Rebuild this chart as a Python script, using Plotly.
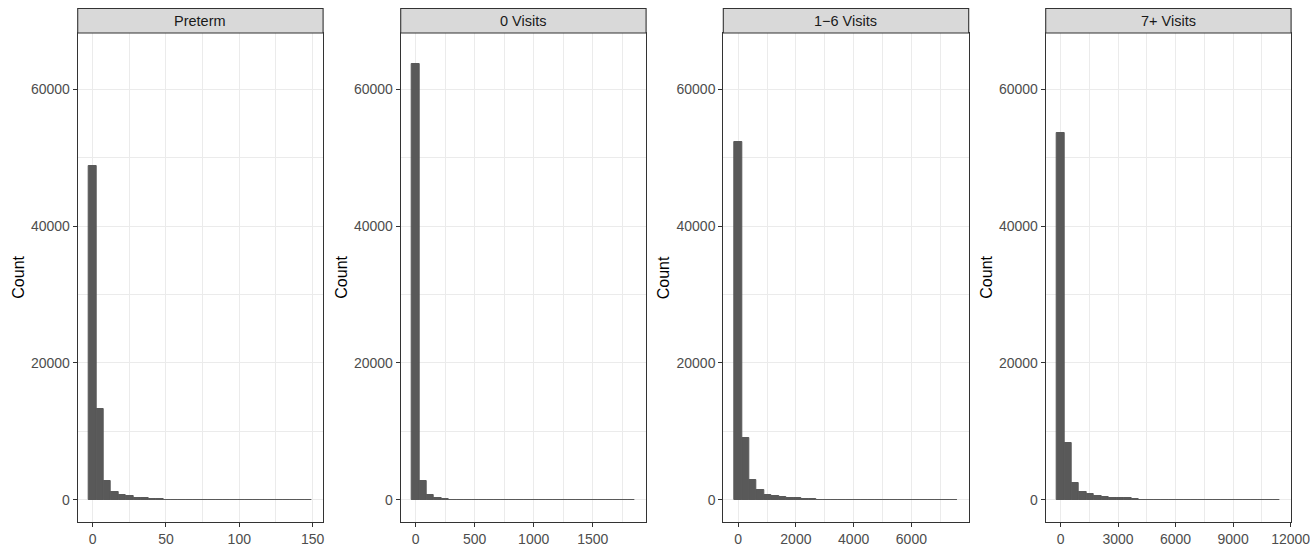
import plotly.graph_objects as go

# ---- data (30 bins per panel, ggplot-style: first bin centred on min) ----
panel_titles = ["Preterm", "0 Visits", "1\u22126 Visits", "7+ Visits"]
bin_min = [0, 0, 0, 0]
bin_max = [147, 1826, 7470, 11250]

counts_preterm = [48760, 13230, 2730, 1150, 700, 560, 260, 280, 120, 60,
                  40, 30, 20, 15, 12, 10, 8, 6, 5, 5, 4, 3, 3, 2, 2, 2, 1, 1, 1, 1]
counts_0 = [63750, 2730, 690, 250, 80, 40, 25, 15, 10, 8,
            6, 5, 4, 3, 3, 2, 2, 2, 1, 1, 1, 1, 1, 1, 1, 1, 1, 1, 1, 1]
counts_1_6 = [52260, 9000, 2870, 1410, 740, 540, 390, 300, 250, 100,
              60, 40, 30, 20, 15, 12, 10, 8, 6, 5, 4, 3, 3, 2, 2, 2, 1, 1, 1, 1]
counts_7 = [53620, 8270, 2440, 1120, 830, 540, 390, 250, 240, 200,
            60, 40, 30, 20, 15, 12, 10, 8, 6, 5, 4, 3, 3, 2, 2, 2, 1, 1, 1, 1]
all_counts = [counts_preterm, counts_0, counts_1_6, counts_7]

x_major = [[0, 50, 100, 150], [0, 500, 1000, 1500],
           [0, 2000, 4000, 6000], [0, 3000, 6000, 9000, 12000]]
x_minor_step = [25, 250, 1000, 1500]
y_ticks = [0, 20000, 40000, 60000]
y_limit = 65000

# ---- layout geometry (pixels) ----
W, H = 1310, 546
lefts = [77.7, 400.7, 723.3, 1045.7]
pw = 245.4
plot_top, plot_bot = 33.0, 522.0
strip_top = 8.5

FONT = "Liberation Sans, Arial, sans-serif"
BAR = "#595959"
GRID = "#EBEBEB"
BORDER = "#333333"
TICKTXT = "#4D4D4D"

fig = go.Figure()
shapes = []
annotations = []


def px_x(v):
    return v / W


def px_y(v):
    return 1 - v / H


for i in range(4):
    n = len(all_counts[i])
    w = (bin_max[i] - bin_min[i]) / (n - 1)
    centers = [bin_min[i] + k * w for k in range(n)]
    lo, hi = bin_min[i] - w / 2, bin_max[i] + w / 2
    span = hi - lo
    xr = [lo - 0.05 * span, hi + 0.05 * span]
    ax = "" if i == 0 else str(i + 1)
    fig.add_trace(go.Bar(
        x=centers, y=all_counts[i], width=w,
        marker=dict(color=BAR, line=dict(color=BAR, width=1)),
        xaxis="x" + ax, yaxis="y" + ax, showlegend=False,
        hovertemplate="%{x}: %{y}<extra></extra>",
    ))
    d0, d1 = px_x(lefts[i]), px_x(lefts[i] + pw)
    fig.layout["xaxis" + ax] = dict(
        domain=[d0, d1], range=xr, anchor="y" + ax,
        tickmode="array", tickvals=x_major[i], tickformat="d",
        showgrid=True, gridcolor=GRID, gridwidth=1.1,
        minor=dict(dtick=x_minor_step[i], tick0=0, showgrid=True,
                   gridcolor=GRID, gridwidth=0.55, ticks=""),
        zeroline=False, showline=True, mirror=True, linecolor=BORDER, linewidth=1.1,
        ticks="outside", ticklen=4, tickwidth=1.1, tickcolor=BORDER,
        tickfont=dict(family=FONT, size=14, color=TICKTXT),
        ticklabeloverflow="allow", automargin=False,
    )
    fig.layout["yaxis" + ax] = dict(
        domain=[px_y(plot_bot), px_y(plot_top)],
        range=[-0.05 * y_limit, 1.05 * y_limit], anchor="x" + ax,
        tickmode="array", tickvals=y_ticks, tickformat="d",
        showgrid=True, gridcolor=GRID, gridwidth=1.1,
        minor=dict(dtick=10000, tick0=0, showgrid=True,
                   gridcolor=GRID, gridwidth=0.55, ticks=""),
        zeroline=False, showline=True, mirror=True, linecolor=BORDER, linewidth=1.1,
        ticks="outside", ticklen=4, tickwidth=1.1, tickcolor=BORDER,
        tickfont=dict(family=FONT, size=14, color=TICKTXT),
        automargin=False,
    )
    # facet strip
    shapes.append(dict(type="rect", xref="paper", yref="paper",
                       x0=d0, x1=d1, y0=px_y(plot_top), y1=px_y(strip_top),
                       fillcolor="#D9D9D9", line=dict(color=BORDER, width=1.1),
                       layer="above"))
    annotations.append(dict(text=panel_titles[i], xref="paper", yref="paper",
                            x=(d0 + d1) / 2, y=(px_y(plot_top) + px_y(strip_top)) / 2,
                            xanchor="center", yanchor="middle", showarrow=False,
                            font=dict(family=FONT, size=14.5, color="#1A1A1A")))
    # y axis title
    annotations.append(dict(text="Count", xref="paper", yref="paper",
                            x=px_x(lefts[i] - 59.5), y=px_y((plot_top + plot_bot) / 2),
                            xanchor="center", yanchor="middle", showarrow=False,
                            textangle=-90,
                            font=dict(family=FONT, size=16, color="#000000")))

fig.update_layout(
    width=W, height=H,
    margin=dict(l=0, r=0, t=0, b=0),
    paper_bgcolor="white", plot_bgcolor="white",
    bargap=0, shapes=shapes, annotations=annotations,
    font=dict(family=FONT),
)

fig.write_html(
    "out.html",
    config={"displayModeBar": False},
    post_script="document.body.style.margin='0';document.body.style.overflow='hidden';",
)
